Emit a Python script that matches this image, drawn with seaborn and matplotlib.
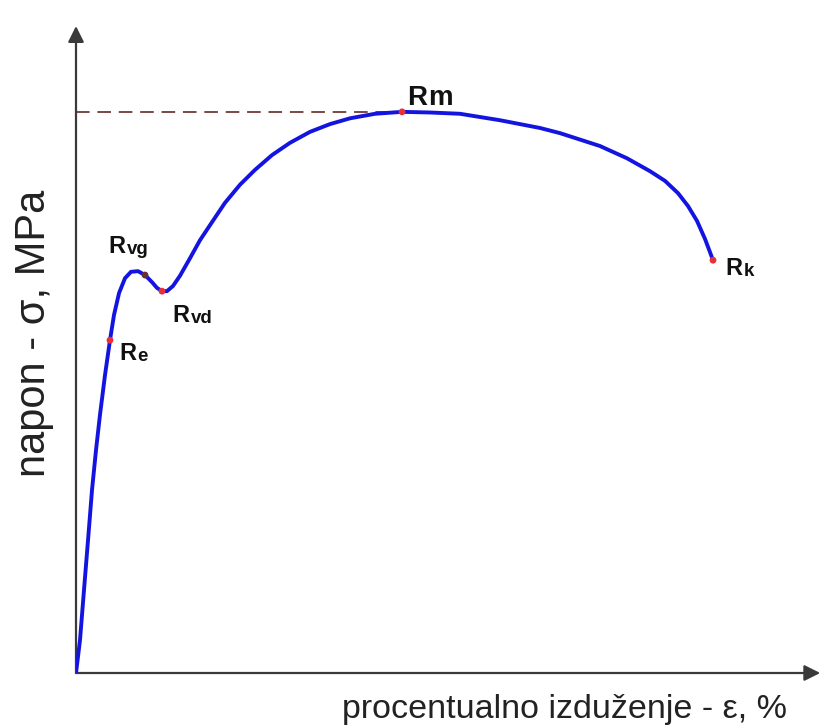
import numpy as np
import pandas as pd
import seaborn as sns
import matplotlib.pyplot as plt

sns.set_theme(style="white")
plt.rcParams["font.family"] = ["Liberation Sans", "DejaVu Sans"]

# Stress-strain curve (strain %, stress in relative units)
strain = [0.0, 0.54, 1.08, 1.62, 2.16, 2.70, 3.23, 3.91, 4.58, 5.12, 5.80, 6.60,
          7.41, 8.36, 9.30, 10.24, 10.92, 11.59, 12.26, 13.07, 14.02, 15.36,
          16.71, 18.33, 20.08, 22.10, 24.12, 26.42, 28.84, 31.54, 34.23, 36.93,
          40.30, 43.94, 47.71, 51.75, 57.14, 62.53, 65.23, 70.62, 74.26, 77.36,
          79.38, 81.13, 82.48, 83.69, 84.77, 85.85]
stress = [0.0, 5.1, 12.9, 20.6, 28.4, 34.6, 40.0, 46.2, 51.6, 55.5, 58.9, 61.2,
          62.2, 62.3, 61.7, 60.6, 59.7, 59.2, 59.2, 60.0, 61.6, 64.3,
          67.1, 69.9, 72.9, 75.7, 78.0, 80.3, 82.2, 83.9, 85.1, 86.0,
          86.7, 87.0, 86.9, 86.7, 85.7, 84.5, 83.7, 81.7, 79.8, 77.8,
          76.3, 74.4, 72.4, 70.1, 67.3, 64.0]

# Characteristic points
point_names = ["R|e", "R|vg", "R|vd", "R|m", "R|k"]
point_strain = [4.58, 9.30, 11.59, 43.94, 85.85]
point_stress = [51.6, 61.7, 59.2, 87.0, 64.0]
point_colors = ["#e8303a", "#6a3030", "#e8303a", "#e8303a", "#e8303a"]

x_label = "procentualno izduženje - ε, %"
y_label = "napon - σ, MPa"

curve = pd.DataFrame({"strain": strain, "stress": stress})

fig = plt.figure(figsize=(8.23, 7.28), dpi=100)
ax = fig.add_axes([76 / 823, 55 / 728, 742 / 823, 645 / 728])
ax.set_xlim(0, 100)
ax.set_ylim(0, 100)
for s in ax.spines.values():
    s.set_visible(False)
ax.set_xticks([])
ax.set_yticks([])
ax.set_facecolor("white")

# axes drawn as arrows
axis_col = "#3a3a3a"
ax.annotate("", xy=(100.3, 0), xytext=(0, 0),
            arrowprops=dict(arrowstyle="-|>", color=axis_col, lw=1.6,
                            mutation_scale=24, shrinkA=0, shrinkB=0),
            annotation_clip=False)
ax.annotate("", xy=(0, 100.3), xytext=(0, 0),
            arrowprops=dict(arrowstyle="-|>", color=axis_col, lw=1.6,
                            mutation_scale=24, shrinkA=0, shrinkB=0),
            annotation_clip=False)

# tensile strength reference line
rm_idx = point_names.index("R|m")
ax.plot([0, point_strain[rm_idx]], [point_stress[rm_idx]] * 2,
        ls=(0, (7, 4)), color="#7a4a44", lw=1.4, zorder=2)

sns.lineplot(data=curve, x="strain", y="stress", sort=False, ax=ax,
             color="#1414e0", lw=2.8, zorder=3)
ax.lines[-1].set_solid_joinstyle("round")
ax.lines[-1].set_solid_capstyle("round")
ax.set_xlabel("")
ax.set_ylabel("")

ax.scatter(point_strain, point_stress, s=24, c=point_colors, zorder=4,
           linewidths=0)

# label offsets (pixels) and sizes
offsets = {"R|e": (9, -20), "R|vg": (-37, 22), "R|vd": (10, -31),
           "R|m": (5, 7), "R|k": (12, -15)}
for name, px, py in zip(point_names, point_strain, point_stress):
    main, sub = name.split("|")
    big = name == "R|m"
    t = ax.annotate(main, xy=(px, py), xytext=offsets[name],
                    textcoords="offset pixels", ha="left", va="baseline",
                    fontsize=20 if big else 17, fontweight="bold",
                    color="#111111")
    ax.annotate(sub, xy=(1, 0), xycoords=t, xytext=(1.5 if big else 1.5, 0),
                textcoords="offset pixels", ha="left", va="bottom",
                fontsize=20 if big else 13.5, fontweight="bold",
                color="#111111")

fig.text(787 / 823, 1 - 718 / 728, x_label, ha="right", va="baseline",
         fontsize=24.5, color="#222222")
fig.text(45 / 823, 1 - 333 / 728, y_label, ha="center", va="baseline",
         rotation=90, rotation_mode="anchor", fontsize=30, color="#222222")

fig.savefig("out.png", dpi=100, facecolor="white")
